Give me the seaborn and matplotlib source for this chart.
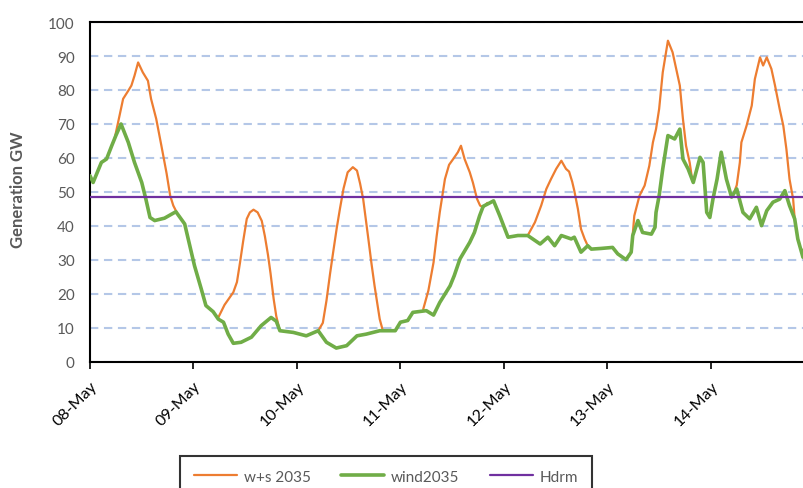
import pandas as pd
import matplotlib.pyplot as plt
from matplotlib.lines import Line2D
import seaborn as sns

sns.set_style('white')
plt.rcParams['font.family'] = ['Lato', 'DejaVu Sans']

# x axis in days from 08-May 00:00
day_labels = ['08-May', '09-May', '10-May', '11-May', '12-May', '13-May', '14-May']

wind_t = [0.00, 0.03, 0.11, 0.16, 0.21, 0.25, 0.30, 0.37, 0.43, 0.50, 0.54, 0.58,
          0.625, 0.72, 0.83, 0.915, 1.01, 1.075, 1.12, 1.19, 1.24, 1.29, 1.335,
          1.385, 1.46, 1.56, 1.655, 1.75, 1.80, 1.835, 1.965, 2.09, 2.205, 2.285,
          2.38, 2.48, 2.58, 2.67, 2.80, 2.95, 3.00, 3.07, 3.12, 3.25, 3.32, 3.38,
          3.48, 3.52, 3.575, 3.67, 3.715, 3.765, 3.80, 3.845, 3.90, 3.96, 4.04,
          4.135, 4.23, 4.35, 4.425, 4.49, 4.555, 4.65, 4.68, 4.745, 4.81, 4.845,
          4.94, 5.05, 5.10, 5.18, 5.23, 5.245, 5.295, 5.34, 5.425, 5.46, 5.47,
          5.50, 5.535, 5.585, 5.65, 5.70, 5.73, 5.78, 5.83, 5.895, 5.925, 5.96,
          5.99, 6.02, 6.06, 6.10, 6.15, 6.20, 6.25, 6.28, 6.31, 6.375, 6.44, 6.49,
          6.54, 6.60, 6.665, 6.715, 6.76, 6.81, 6.84, 6.89, 6.90]
wind_v = [54.8, 52.8, 58.7, 59.7, 63.6, 66.6, 70.0, 64.6, 58.7, 52.8, 47.9, 42.5,
          41.6, 42.3, 44.2, 40.6, 28.3, 21.5, 16.6, 14.8, 12.6, 11.7, 8.2,
          5.5, 5.8, 7.3, 10.7, 13.1, 12.0, 9.2, 8.7, 7.7, 9.2, 5.8,
          4.1, 4.8, 7.7, 8.2, 9.2, 9.2, 11.7, 12.2, 14.6, 15.1, 13.8, 17.5,
          22.4, 25.4, 30.3, 35.2, 38.1, 43.0, 45.8, 46.5, 47.4, 43.0, 36.7,
          37.2, 37.2, 34.7, 36.7, 34.2, 37.2, 36.2, 36.7, 32.3, 34.2, 33.2,
          33.4, 33.7, 31.8, 30.1, 32.3, 37.2, 41.6, 38.1, 37.6, 39.6, 44.0,
          48.9, 56.8, 66.6, 65.6, 68.5, 59.7, 56.8, 52.8, 60.2, 58.7, 44.0,
          42.5, 47.9, 53.8, 61.7, 53.8, 48.5, 50.9, 47.4, 44.0, 42.1, 45.5, 40.1,
          44.5, 47.0, 47.9, 50.4, 46.0, 42.1, 36.2, 30.8, 33.0]

# w+s 2035 only where it rises above wind (daylight); at night it lies under wind
ws_t = [
    [0.24, 0.285, 0.32, 0.37, 0.40, 0.43, 0.465, 0.51, 0.56, 0.59, 0.64, 0.69,
     0.74, 0.775, 0.805, 0.835],
    [1.24, 1.30, 1.385, 1.42, 1.45, 1.48, 1.515, 1.545, 1.58, 1.62, 1.66, 1.69,
     1.72, 1.745, 1.775, 1.80, 1.83],
    [2.205, 2.25, 2.285, 2.32, 2.35, 2.385, 2.415, 2.45, 2.49, 2.54, 2.58, 2.61,
     2.64, 2.69, 2.72, 2.75, 2.78, 2.80, 2.83],
    [3.22, 3.27, 3.32, 3.35, 3.38, 3.43, 3.47, 3.51, 3.555, 3.585, 3.62, 3.67,
     3.70, 3.74, 3.77, 3.80, 3.84],
    [4.23, 4.30, 4.36, 4.41, 4.455, 4.505, 4.555, 4.60, 4.63, 4.66, 4.68, 4.715,
     4.745, 4.78, 4.81],
    [5.245, 5.26, 5.31, 5.36, 5.405, 5.44, 5.47, 5.50, 5.535, 5.585, 5.63, 5.665,
     5.70, 5.73, 5.76, 5.795, 5.82],
    [6.22, 6.25, 6.28, 6.295, 6.345, 6.395, 6.425, 6.475, 6.505, 6.54, 6.585,
     6.62, 6.665, 6.70, 6.73, 6.76, 6.795, 6.81],
]
ws_v = [
    [66.0, 72.4, 77.4, 79.8, 81.3, 84.2, 88.1, 85.2, 82.7, 77.4, 71.5, 63.6,
     55.5, 48.9, 46.0, 44.2],
    [13.1, 16.8, 20.5, 23.5, 29.3, 35.5, 42.1, 44.0, 44.8, 44.0, 41.5, 37.0,
     31.5, 26.0, 18.5, 13.5, 9.7],
    [9.2, 11.5, 18.0, 26.0, 32.3, 39.5, 45.0, 51.0, 55.8, 57.3, 56.3, 52.5,
     47.9, 36.2, 29.0, 22.4, 16.5, 12.6, 9.2],
    [15.5, 21.0, 29.3, 37.0, 44.0, 53.8, 58.0, 59.7, 61.7, 63.6, 59.7, 55.8,
     52.8, 48.0, 46.0, 45.5, 46.8],
    [37.2, 41.1, 46.0, 50.9, 53.8, 56.8, 59.2, 56.8, 56.0, 53.0, 50.4, 45.0,
     39.1, 36.2, 34.2],
    [37.5, 43.0, 48.9, 51.9, 57.7, 64.6, 68.5, 74.4, 85.2, 94.5, 91.1, 86.2,
     81.3, 71.5, 63.6, 58.7, 53.5],
    [49.5, 52.0, 58.7, 64.6, 69.5, 75.4, 83.2, 89.6, 87.2, 89.6, 86.2,
     81.3, 74.4, 69.5, 62.6, 53.8, 47.9, 42.1],
]

hdrm = 48.5

orange = '#ed7d31'
green = '#70ad47'
purple = '#7030a0'
grey = '#595959'

ws_df = pd.DataFrame({
    't': [t for seg in ws_t for t in seg],
    'v': [v for seg in ws_v for v in seg],
    'seg': [i for i, seg in enumerate(ws_t) for _ in seg],
})
wind_df = pd.DataFrame({'t': wind_t, 'v': wind_v})

fig = plt.figure(figsize=(8.04, 4.89), dpi=100)
ax = fig.add_axes([90 / 804, 126 / 489, 714 / 804, 340 / 489])

sns.lineplot(data=ws_df, x='t', y='v', units='seg', estimator=None,
             color=orange, lw=1.6, ax=ax, legend=False, zorder=3)
sns.lineplot(data=wind_df, x='t', y='v', color=green, lw=2.6, ax=ax,
             legend=False, zorder=4)
ax.axhline(hdrm, color=purple, lw=1.6, zorder=5)

ax.set_xlim(0, 6.9)
ax.set_ylim(0, 100)
ax.set_yticks(range(0, 101, 10))
ax.set_xticks(range(len(day_labels)))
ax.set_xticklabels(day_labels, rotation=45, ha='right', rotation_mode='anchor')
ax.set_xlabel('')
ax.set_ylabel('')

ax.set_axisbelow(True)
ax.yaxis.grid(True, color='#b4c7e7', ls=(0, (4, 2.7)), lw=1.5)
ax.xaxis.grid(False)

for side in ['left', 'bottom', 'top']:
    ax.spines[side].set_color('black')
    ax.spines[side].set_linewidth(1.5)
ax.spines['right'].set_visible(False)

ax.tick_params(axis='y', length=0, pad=11, labelsize=11, labelcolor=grey)
ax.tick_params(axis='x', length=5, width=1.2, color='black', direction='out',
               pad=7, labelsize=11.5, labelcolor='black', bottom=True)

fig.text(18 / 804, 1 - 190 / 489, 'Generation GW', rotation=90, ha='center',
         va='center', fontsize=12, fontweight='bold', color=grey)

handles = [Line2D([], [], color=orange, lw=1.6),
           Line2D([], [], color=green, lw=2.6),
           Line2D([], [], color=purple, lw=1.6)]
leg = fig.legend(handles, ['w+s 2035', 'wind2035', 'Hdrm'], loc='upper center',
                 bbox_to_anchor=(386 / 804, 1 - 457 / 489), ncol=3,
                 frameon=True, fancybox=False, edgecolor='black',
                 borderpad=0.9, handlelength=2.8, handletextpad=0.45,
                 columnspacing=2.0, fontsize=11, borderaxespad=0)
leg.get_frame().set_linewidth(1.5)
for txt in leg.get_texts():
    txt.set_color(grey)

fig.savefig('out.png', dpi=100)
